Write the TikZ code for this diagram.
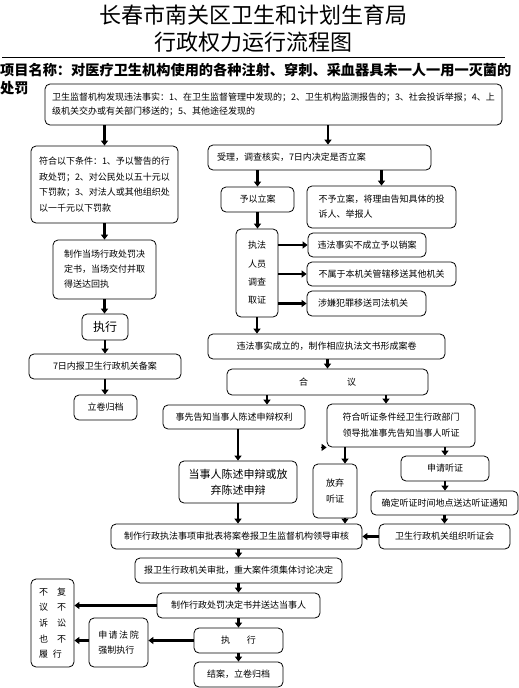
\documentclass[tikz,border=0pt]{standalone}
\usepackage{fontspec}
\setmainfont{Noto Sans CJK SC}
\usetikzlibrary{arrows.meta}

\begin{document}
\begin{tikzpicture}[x=1pt,y=-1pt,
  blk/.style={draw,line width=0.8pt,rounded corners=5pt,inner sep=0pt,align=center,font=\fontsize{9}{15}\selectfont},
  arr/.style={line width=2.2pt,-{Triangle[length=5pt,width=7pt]}}]
\useasboundingbox (0,0) rectangle (519,688);
\node[font=\fontsize{22}{27}\selectfont,align=center] (title) at (253,28.5) {长春市南关区卫生和计划生育局\\行政权力运行流程图};
\draw[line width=0.8pt] (2,57) -- (505,57);
\node[font=\fontsize{14.2}{18}\selectfont\bfseries,align=left,anchor=north west,inner sep=0pt] (proj) at (0,62.5) {项目名称：对医疗卫生机构使用的各种注射、穿刺、采血器具未一人一用一灭菌的\\处罚};

\node[blk,minimum width=457pt,minimum height=41pt,align=left,font=\fontsize{9}{14}\selectfont] (find) at (273.5,104.5) {卫生监督机构发现违法事实：1、在卫生监督管理中发现的；2、卫生机构监测报告的；3、社会投诉举报；4、上\\级机关交办或有关部门移送的；5、其他途径发现的};
\node[blk,minimum width=147pt,minimum height=77pt,align=left,font=\fontsize{9}{15.5}\selectfont] (cond) at (104.5,184.5) {符合以下条件：1、予以警告的行\\政处罚；2、对公民处以五十元以\\下罚款；3、对法人或其他组织处\\以一千元以下罚款};
\node[blk,minimum width=103pt,minimum height=59pt,align=left] (spot) at (104.5,269.5) {制作当场行政处罚决\\定书，当场交付并取\\得送达回执};
\node[blk,minimum width=46pt,minimum height=26pt,font=\fontsize{12}{15}\selectfont] (exec1) at (105,327) {执行};
\node[blk,minimum width=152pt,minimum height=25pt] (rec) at (105,366.5) {7日内报卫生行政机关备案};
\node[blk,minimum width=63pt,minimum height=25pt] (arch1) at (105.5,407.5) {立卷归档};

\node[blk,minimum width=223pt,minimum height=25pt,align=left,inner xsep=9pt,text width=205pt] (accept) at (319.5,157.5) {受理，调查核实，7日内决定是否立案};
\node[blk,minimum width=73pt,minimum height=25pt] (filed) at (257.5,199.5) {予以立案};
\node[blk,minimum width=149pt,minimum height=42pt,align=left] (reject) at (381.5,207) {不予立案，将理由告知具体的投\\诉人、举报人};
\node[blk,minimum width=42pt,minimum height=88pt,font=\fontsize{9}{18.3}\selectfont] (inv) at (257,273) {执法\\人员\\调查\\取证};
\node[blk,minimum width=118pt,minimum height=24pt] (nf) at (367,245) {违法事实不成立予以销案};
\node[blk,minimum width=149pt,minimum height=24pt] (other) at (381.5,274) {不属于本机关管辖移送其他机关};
\node[blk,minimum width=119pt,minimum height=25pt,align=left,inner xsep=11pt,text width=97pt] (crime) at (366.5,303.5) {涉嫌犯罪移送司法机关};
\node[blk,minimum width=237pt,minimum height=25pt] (est) at (326.5,346.5) {违法事实成立的，制作相应执法文书形成案卷};
\node[blk,minimum width=201pt,minimum height=26pt] (meet) at (327.5,382) {合\hspace{39pt}议};
\node[blk,minimum width=142pt,minimum height=24pt] (notify) at (234,417) {事先告知当事人陈述申辩权利};
\node[blk,minimum width=148pt,minimum height=43pt,align=left,font=\fontsize{9}{16}\selectfont] (hear) at (401,425.5) {符合听证条件经卫生行政部门\\领导批准事先告知当事人听证};
\node[blk,minimum width=118pt,minimum height=42pt,font=\fontsize{11}{16}\selectfont] (state) at (238,482) {当事人陈述申辩或放\\弃陈述申辩};
\node[blk,minimum width=44pt,minimum height=54pt,font=\fontsize{9}{16}\selectfont] (waive) at (335,491) {放弃\\听证};
\node[blk,minimum width=88pt,minimum height=25pt] (apply) at (445,468.5) {申请听证};
\node[blk,minimum width=147pt,minimum height=24pt] (confirm) at (444.5,503) {确定听证时间地点送达听证通知};
\node[blk,minimum width=131pt,minimum height=25pt] (org) at (444.5,536.5) {卫生行政机关组织听证会};
\node[blk,minimum width=251pt,minimum height=25pt] (form) at (236.5,536.5) {制作行政执法事项审批表将案卷报卫生监督机构领导审核};
\node[blk,minimum width=207pt,minimum height=25pt] (report) at (238.5,570.5) {报卫生行政机关审批，重大案件须集体讨论决定};
\node[blk,minimum width=163pt,minimum height=25pt] (decide) at (238.5,605.5) {制作行政处罚决定书并送达当事人};
\node[blk,minimum width=89pt,minimum height=25pt] (exec2) at (238.5,640.5) {执\hspace{17pt}行};
\node[blk,minimum width=89pt,minimum height=25pt] (closed) at (238.5,674.5) {结案，立卷归档};
\node[blk,minimum width=59pt,minimum height=49pt,align=left] (court) at (118.5,642.5) {申\hspace{1.5pt}请\hspace{1.5pt}法\hspace{1.5pt}院\\强制执行};
\node[blk,minimum width=43pt,minimum height=88pt,align=left,font=\fontsize{9}{15.7}\selectfont] (noact) at (52.5,623) {不\hspace{9pt}复\\议\hspace{9pt}不\\诉\hspace{9pt}讼\\也\hspace{9pt}不\\履\hspace{5pt}行};

\coordinate (acT) at ([xshift=8.5pt]accept.north);
\coordinate (ntT) at ([xshift=33pt]notify.north);
\coordinate (hrT) at ([xshift=-15pt]hear.north);
\coordinate (wvT) at ([xshift=10pt]waive.north);
\coordinate (wvB) at ([xshift=10pt]waive.south);
\coordinate (hrC) at ([xshift=-6pt]hear.south west);

\draw[arr] (cond.north |- find.south) -- (cond.north);
\draw[arr] (acT |- find.south) -- (acT);
\draw[arr] (cond.south) -- (spot.north);
\draw[arr] (spot.south) -- (spot.south |- exec1.north);
\draw[arr] (exec1.south) -- (exec1.south |- rec.north);
\draw[arr] (rec.south) -- (rec.south |- arch1.north);
\draw[arr] (filed.north |- accept.south) -- (filed.north);
\draw[arr] (reject.north |- accept.south) -- (reject.north);
\draw[arr] (filed.south) -- (filed.south |- inv.north);
\draw[arr] (inv.east |- nf.west) -- (nf.west);
\draw[arr] (inv.east |- other.west) -- (other.west);
\draw[arr] (inv.east |- crime.west) -- (crime.west);
\draw[arr] (inv.south) -- (inv.south |- est.north);
\draw[arr] (meet.north |- est.south) -- (meet.north);
\draw[arr] (ntT |- meet.south) -- (ntT);
\draw[arr] (hrT |- meet.south) -- (hrT);
\draw[arr] (state.north |- notify.south) -- (state.north);
\draw[arr] (wvT |- hear.south) -- (wvT);
\draw[arr] (apply.north |- hear.south) -- (apply.north);
\draw[arr] (apply.south) -- (apply.south |- confirm.north);
\draw[arr] (confirm.south) -- (confirm.south |- org.north);
\draw[arr] (org.west) -- (form.east);
\draw[arr] (wvB) -- (wvB |- form.north);
\draw[arr] (state.south) -- (state.south |- form.north);
\draw[arr] (report.north |- form.south) -- (report.north);
\draw[arr] (report.south) -- (report.south |- decide.north);
\draw[arr] (decide.south) -- (decide.south |- exec2.north);
\draw[arr] (exec2.south) -- (exec2.south |- closed.north);
\draw[arr] (decide.west) -- (decide.west -| noact.east);
\draw[arr] (exec2.west) -- (exec2.west -| court.east);
\draw[arr] (court.west |- exec2.west) -- (exec2.west -| noact.east);
\draw[arr,line width=0.8pt] (hrC) -- (hear.south west);
\end{tikzpicture}
\end{document}
